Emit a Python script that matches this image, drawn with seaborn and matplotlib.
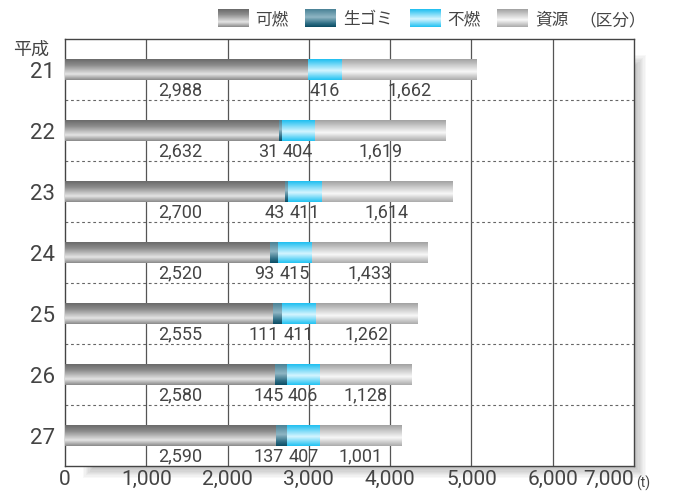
import numpy as np
import matplotlib
matplotlib.use("Agg")
import matplotlib.pyplot as plt
import seaborn as sns
from matplotlib.colors import LinearSegmentedColormap
from matplotlib.patches import Rectangle
from matplotlib.legend_handler import HandlerBase
from matplotlib.image import BboxImage
from matplotlib.transforms import Bbox, TransformedBbox

# ------------------------------------------------------------
# donnees (平成21 - 27, t)
# ------------------------------------------------------------
years = ["21", "22", "23", "24", "25", "26", "27"]
kanen = [2988, 2632, 2700, 2520, 2555, 2580, 2590]
namagomi = [0, 31, 43, 93, 111, 145, 137]
funen = [416, 404, 411, 415, 411, 406, 407]
shigen = [1662, 1619, 1614, 1433, 1262, 1128, 1001]
series_names = ["可燃", "生ゴミ", "不燃", "資源"]
xticks = [0, 1000, 2000, 3000, 4000, 5000, 6000, 7000]
xtick_labels = ["0", "1,000", "2,000", "3,000", "4,000", "5,000", "6,000", "7,000"]

# gradients (top -> bottom)
cm_kanen = LinearSegmentedColormap.from_list(
    "kanen", [(0, "#6a6a6a"), (0.3, "#8e8e8e"), (0.72, "#e4e4e4"), (1, "#8a8a8a")])
cm_nama = LinearSegmentedColormap.from_list(
    "nama", [(0, "#4a8296"), (0.45, "#8fb6c4"), (0.8, "#2f6f86"), (1, "#0b4c63")])
cm_funen = LinearSegmentedColormap.from_list(
    "funen", [(0, "#1fbff0"), (0.55, "#d6f5ff"), (1, "#22c2f2")])
cm_shigen = LinearSegmentedColormap.from_list(
    "shigen", [(0, "#a2a2a2"), (0.6, "#f8f8f8"), (1, "#ababab")])
grad = np.linspace(0, 1, 64).reshape(-1, 1)

sns.set_style("white")
plt.rcParams["font.family"] = ["Roboto", "Noto Sans CJK JP"]
TXT = "#444444"

W, H = 675, 493
fig = plt.figure(figsize=(W / 100, H / 100), dpi=100)

# ombre du panneau
sh = fig.add_axes([0, 0, 1, 1], zorder=0)
sh.set_xlim(0, W)
sh.set_ylim(H, 0)
sh.axis("off")
for k in range(10):
    d = k * 1.3
    sh.add_patch(Rectangle((83 + d, 55 + d), 563 - 2 * d, 423 - 2 * d,
                           color="black", alpha=0.028, lw=0))

ax = fig.add_axes([65 / W, 27 / H, 569 / W, 427 / H], zorder=1)
ax.set_facecolor("white")

# ------------------------------------------------------------
# barres empilees (cumul) avec degrade
# ------------------------------------------------------------
c1 = np.array(kanen)
c2 = c1 + np.array(namagomi)
c3 = c2 + np.array(funen)
c4 = c3 + np.array(shigen)


def paint(cum, cmap, z):
    n0 = len(ax.patches)
    sns.barplot(x=cum, y=years, order=years, orient="h", width=0.33,
                color="gray", errorbar=None, ax=ax)
    for p in ax.patches[n0:]:
        x0, y0, w, h = p.get_x(), p.get_y(), p.get_width(), p.get_height()
        ax.imshow(grad, cmap=cmap, aspect="auto", interpolation="bilinear",
                  extent=(x0, x0 + w, y0 + h, y0), zorder=z)
        p.set_visible(False)


paint(c4, cm_shigen, 2)
paint(c3, cm_funen, 3)
paint(c2, cm_nama, 4)
paint(c1, cm_kanen, 5)

ax.set_xlim(0, 7000)
ax.set_ylim(6.5, -0.5)

# grilles
ax.vlines(xticks[1:-1], -0.5, 6.5, color="#555555", lw=0.9, zorder=1)
ax.hlines([0.5, 1.5, 2.5, 3.5, 4.5, 5.5], 0, 7000, color="#666666", lw=0.8,
          linestyles=(0, (2.5, 2.5)), zorder=1)

# etiquettes de valeurs
for i in range(len(years)):
    yl = i + 0.35
    ax.text(1420, yl, f"{kanen[i]:,}", ha="center", va="center", fontsize=13, color=TXT)
    fc = c2[i] + funen[i] / 2
    ax.text(fc, yl, f"{funen[i]:,}", ha="center", va="center", fontsize=13, color=TXT, zorder=6)
    if namagomi[i] > 0:
        ax.annotate(f"{namagomi[i]:,}", xy=(fc, yl), xytext=(-14, 0),
                    textcoords="offset points", ha="right", va="center",
                    fontsize=13, color=TXT)
    sc = c3[i] + shigen[i] / 2
    ax.text(sc, yl, f"{shigen[i]:,}", ha="center", va="center", fontsize=13, color=TXT)

# axes
ax.set_xticks(xticks, xtick_labels)
ax.set_xlabel("")
ax.set_ylabel("")
ax.tick_params(axis="x", length=0, pad=3, labelsize=15, labelcolor=TXT)
ax.tick_params(axis="y", length=0, pad=7, labelsize=16, labelcolor=TXT)
ax.get_xticklabels()[-1].set_ha("right")
for s in ax.spines.values():
    s.set_color("#444444")
    s.set_linewidth(1)
    s.set_visible(True)

fig.text(636 / W, 1 - 483 / H, "(t)", ha="left", va="center", fontsize=10, color=TXT)
fig.text(31 / W, 1 - 50 / H, "平成", ha="center", va="center", fontsize=13, color=TXT)

# legende
class GradientHandler(HandlerBase):
    def __init__(self, cmap):
        super().__init__()
        self.cmap = cmap

    def create_artists(self, legend, orig_handle, xdescent, ydescent,
                       width, height, fontsize, trans):
        bb = Bbox.from_bounds(-xdescent, -ydescent, width, height)
        img = BboxImage(TransformedBbox(bb, trans), cmap=self.cmap,
                        interpolation="bilinear")
        img.set_data(grad)
        return [img]


handles = [Rectangle((0, 0), 1, 1) for _ in series_names]
cmaps = [cm_kanen, cm_nama, cm_funen, cm_shigen]
leg = fig.legend(handles, series_names, loc="upper right",
                 bbox_to_anchor=(568 / W, 1 - 10 / H), ncol=4, frameon=False,
                 fontsize=12, handlelength=1.86, handleheight=1.2, handletextpad=0.4,
                 columnspacing=1.0, borderpad=0, borderaxespad=0,
                 handler_map={h: GradientHandler(c) for h, c in zip(handles, cmaps)})
for t in leg.get_texts():
    t.set_color(TXT)
fig.text(613 / W, 1 - 20 / H, "（区分）", ha="center", va="center", fontsize=12, color=TXT)

fig.savefig("out.png", dpi=100)
